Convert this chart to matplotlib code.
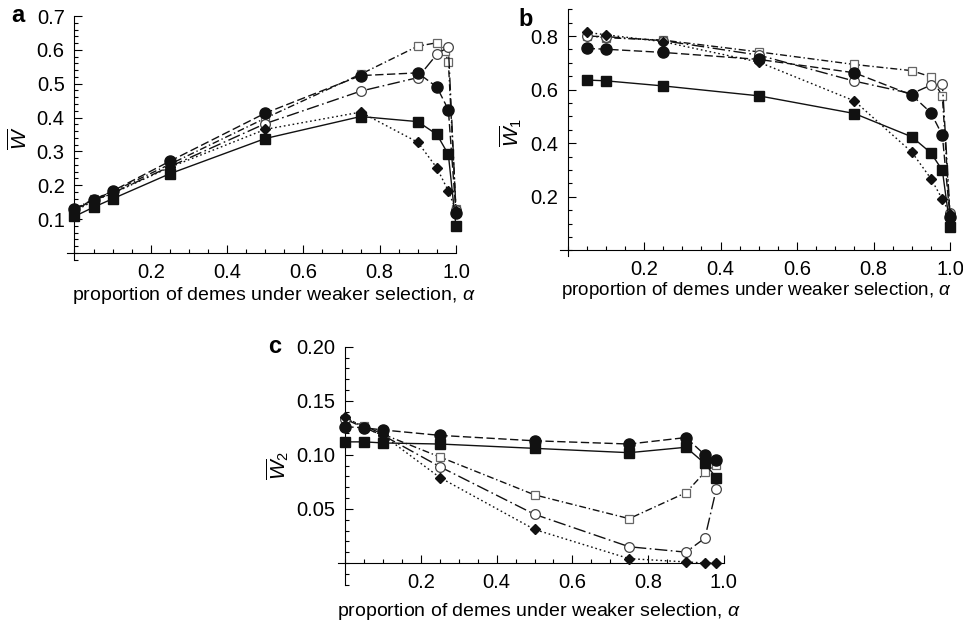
import numpy as np
import matplotlib.pyplot as plt
from matplotlib.ticker import MultipleLocator, FixedLocator

plt.rcParams['font.family'] = ['Liberation Sans', 'DejaVu Sans']
plt.rcParams['mathtext.fontset'] = 'custom'
plt.rcParams['mathtext.it'] = 'Liberation Sans:italic'
plt.rcParams['mathtext.rm'] = 'Liberation Sans'

# alpha values used in the simulations
alpha_a = [0, 0.05, 0.1, 0.25, 0.5, 0.75, 0.9, 0.95, 0.98, 1.0]
alpha_a_osq = [0, 0.05, 0.1, 0.25, 0.5, 0.75, 0.9, 0.95, 0.97, 0.98, 1.0]
alpha_b = [0.05, 0.1, 0.25, 0.5, 0.75, 0.9, 0.95, 0.98, 1.0]
alpha_c = [0, 0.05, 0.1, 0.25, 0.5, 0.75, 0.9, 0.95, 0.98]

# (a) mean fitness
wa_fsq = [0.108, 0.135, 0.160, 0.234, 0.338, 0.403, 0.388, 0.350, 0.291, 0.079]
wa_dia = [0.123, 0.154, 0.176, 0.253, 0.365, 0.416, 0.327, 0.251, 0.183, 0.125]
wa_fci = [0.130, 0.157, 0.183, 0.271, 0.413, 0.524, 0.532, 0.490, 0.423, 0.119]
wa_oci = [0.128, 0.155, 0.177, 0.255, 0.382, 0.478, 0.518, 0.587, 0.609, 0.127]
wa_osq = [0.131, 0.158, 0.181, 0.262, 0.398, 0.528, 0.611, 0.621, 0.597, 0.565, 0.130]

# (b) mean fitness in demes under weaker selection
wb_fsq = [0.636, 0.633, 0.614, 0.577, 0.511, 0.424, 0.364, 0.299, 0.088]
wb_dia = [0.814, 0.805, 0.779, 0.703, 0.558, 0.367, 0.268, 0.191, 0.137]
wb_fci = [0.754, 0.751, 0.739, 0.713, 0.663, 0.580, 0.514, 0.430, 0.125]
wb_oci = [0.800, 0.798, 0.783, 0.729, 0.632, 0.585, 0.617, 0.623, 0.140]
wb_osq = [0.801, 0.794, 0.785, 0.741, 0.694, 0.671, 0.648, 0.576, 0.130]

# (c) mean fitness in demes under stronger selection
wc_fsq = [0.112, 0.112, 0.111, 0.110, 0.106, 0.102, 0.107, 0.092, 0.079]
wc_dia = [0.135, 0.125, 0.118, 0.079, 0.031, 0.004, 0.001, 0.0, 0.0]
wc_fci = [0.126, 0.125, 0.123, 0.118, 0.113, 0.110, 0.116, 0.100, 0.095]
wc_oci = [0.133, 0.125, 0.118, 0.089, 0.045, 0.015, 0.010, 0.023, 0.068]
wc_osq = [0.133, 0.127, 0.119, 0.098, 0.063, 0.041, 0.065, 0.084, 0.091]

styles = {
    'osq': dict(ls=(0, (5, 2, 1, 2)), marker='s', ms=5.5, mfc='white', mec='#666666', mew=0.9),
    'oci': dict(ls=(0, (9, 2.5, 1.2, 2.5)), marker='o', ms=7, mfc='white', mec='#444444', mew=0.9),
    'dia': dict(ls=(0, (1.2, 2)), marker='D', ms=5, mfc='#111111', mec='#111111'),
    'fci': dict(ls=(0, (6, 2.5)), marker='o', ms=8, mfc='#111111', mec='#111111'),
    'fsq': dict(ls='-', marker='s', ms=7.5, mfc='#111111', mec='#111111'),
}

fig = plt.figure(figsize=(9.63, 6.21), dpi=100)
ax_a = fig.add_axes([0.0694, 0.5818, 0.4041, 0.3924])
ax_b = fig.add_axes([0.5814, 0.5882, 0.4051, 0.3968])
ax_c = fig.add_axes([0.3507, 0.0586, 0.4009, 0.3831])


def draw(ax, series):
    for key, (xs, ys) in series:
        ax.plot(xs, ys, color='#111111', lw=1.0, clip_on=False, zorder=3,
                **styles[key])


def style_axes(ax, ytop, ymajor, yminor, ylabels, xlab_pos, xlab_size=14):
    ax.set_xlim(-0.02, 1.0)
    ax.set_ylim(-0.02, ytop)
    for s in ['top', 'right']:
        ax.spines[s].set_visible(False)
    ax.spines['left'].set_position(('data', 0))
    ax.spines['bottom'].set_position(('data', 0))
    ax.spines['left'].set_bounds(-0.02, ytop)
    ax.spines['bottom'].set_bounds(-0.02, 1.0)
    ax.xaxis.set_major_locator(FixedLocator([0.2, 0.4, 0.6, 0.8, 1.0]))
    ax.xaxis.set_minor_locator(MultipleLocator(0.05))
    ax.set_xticklabels(['0.2', '0.4', '0.6', '0.8', '1.0'])
    ax.yaxis.set_major_locator(FixedLocator(ymajor))
    ax.yaxis.set_minor_locator(MultipleLocator(yminor))
    ax.set_yticklabels(ylabels)
    ax.tick_params(which='both', direction='in', width=0.8, labelsize=14.5)
    ax.tick_params(which='major', length=6)
    ax.tick_params(which='minor', length=3)
    ax.tick_params(axis='x', pad=7)
    ax.tick_params(axis='y', pad=7)
    ax.set_xlabel('proportion of demes under weaker selection, $\\alpha$',
                  fontsize=xlab_size)
    ax.xaxis.set_label_coords(*xlab_pos)
    ax.patch.set_alpha(0)


draw(ax_a, [('osq', (alpha_a_osq, wa_osq)), ('oci', (alpha_a, wa_oci)),
            ('dia', (alpha_a, wa_dia)), ('fci', (alpha_a, wa_fci)),
            ('fsq', (alpha_a, wa_fsq))])
style_axes(ax_a, 0.7, [0.1, 0.2, 0.3, 0.4, 0.5, 0.6, 0.7], 0.02,
           ['0.1', '0.2', '0.3', '0.4', '0.5', '0.6', '0.7'], (0.533, -0.105))
ax_a.set_ylabel('$\\overline{W}$', fontsize=15, labelpad=4)

draw(ax_b, [('osq', (alpha_b, wb_osq)), ('oci', (alpha_b, wb_oci)),
            ('dia', (alpha_b, wb_dia)), ('fci', (alpha_b, wb_fci)),
            ('fsq', (alpha_b, wb_fsq))])
style_axes(ax_b, 0.9, [0.2, 0.4, 0.6, 0.8], 0.05,
           ['0.2', '0.4', '0.6', '0.8'], (0.505, -0.097), 13.6)
ax_b.set_ylabel('$\\overline{W}_1$', fontsize=15, labelpad=4)

draw(ax_c, [('osq', (alpha_c, wc_osq)), ('oci', (alpha_c, wc_oci)),
            ('dia', (alpha_c, wc_dia)), ('fci', (alpha_c, wc_fci)),
            ('fsq', (alpha_c, wc_fsq))])
style_axes(ax_c, 0.20, [0.05, 0.10, 0.15, 0.20], 0.01,
           ['0.05', '0.10', '0.15', '0.20'], (0.52, -0.068))
ax_c.set_ylabel('$\\overline{W}_2$', fontsize=15, labelpad=4)

fig.text(0.012, 0.975, 'a', fontsize=17, fontweight='bold', va='center')
fig.text(0.538, 0.968, 'b', fontsize=17, fontweight='bold', va='center')
fig.text(0.278, 0.442, 'c', fontsize=17, fontweight='bold', va='center')

fig.savefig('out.png', dpi=100)
